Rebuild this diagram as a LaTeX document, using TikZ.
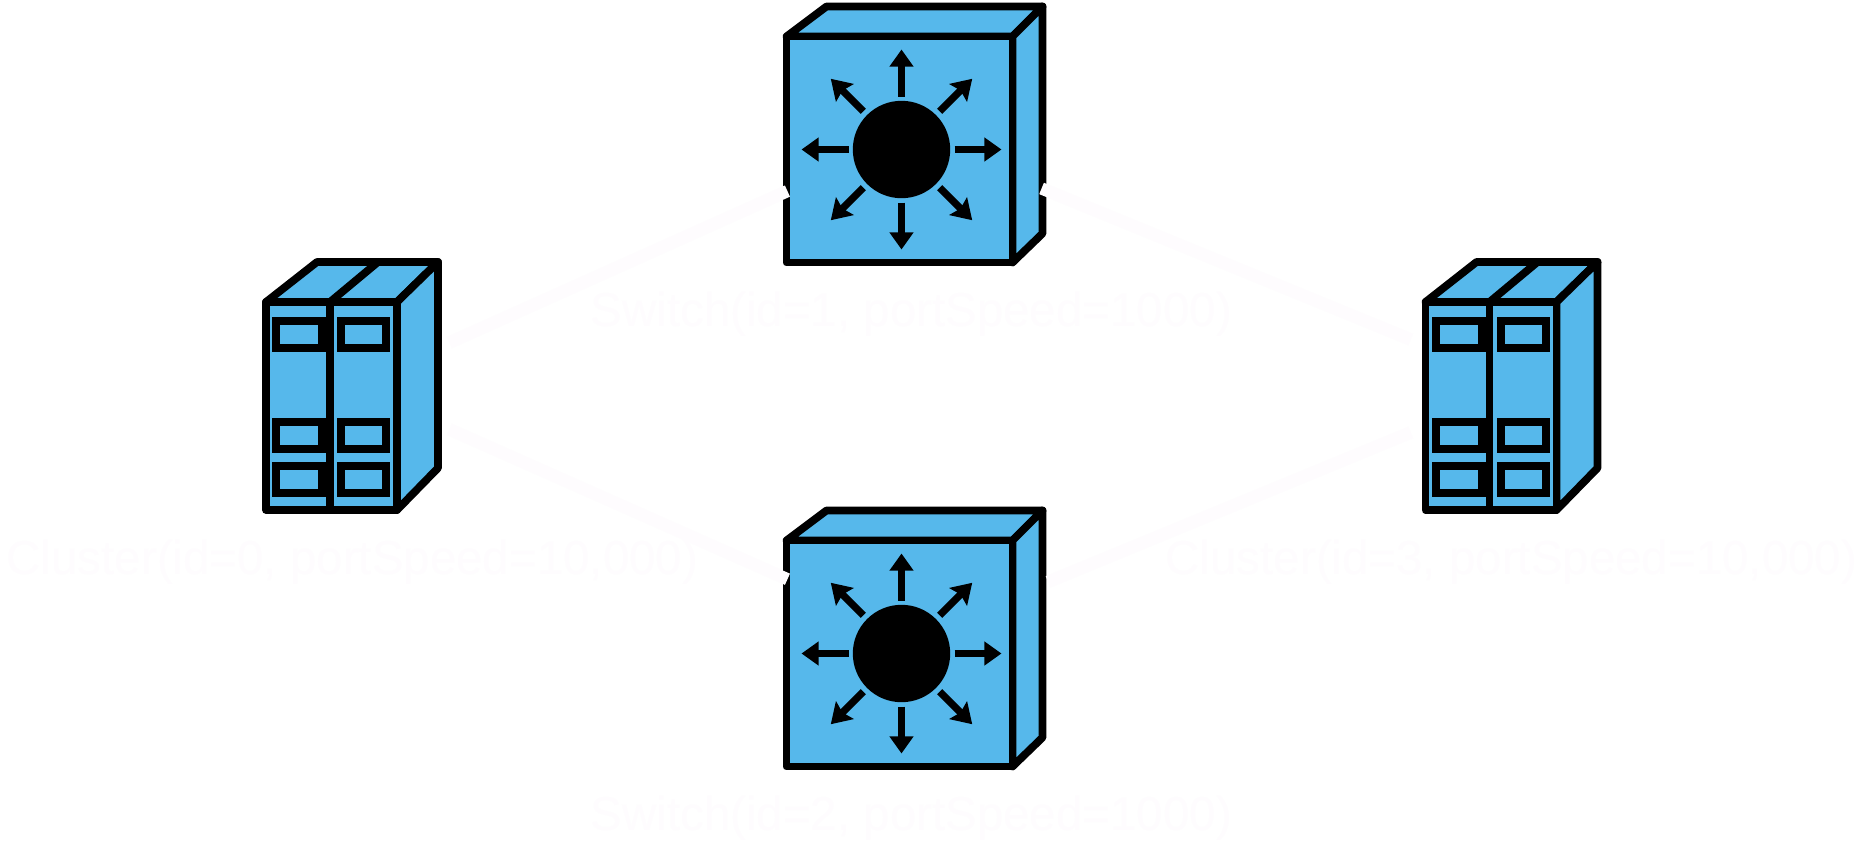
\documentclass[tikz,border=0pt]{standalone}
\usepackage{fontspec}
\setmainfont{Liberation Sans}
\usetikzlibrary{arrows.meta}
\definecolor{boxblue}{HTML}{56B8EB}
\definecolor{ghost}{HTML}{FEFCFE}
\tikzset{
	outline/.style={draw=black, fill=boxblue, line width=2.2pt, line join=round},
	fanline/.style={draw=black, line width=2.05pt},
	fanstraight/.style={fanline, -{Triangle[length=4.9pt, width=6.6pt]}},
	fandiag/.style={fanline, -{Stealth[length=5.6pt, width=7pt, inset=0.9pt]}},
	bay/.style={draw=black, fill=boxblue, line width=2.28pt},
	portbox/.style={inner sep=0pt, outer sep=0pt},
	link/.style={draw=ghost, line width=3.5pt},
	devlabel/.style={anchor=base west, inner sep=0pt, text=ghost, font=\fontsize{13.5}{16}\selectfont},
	switchicon/.pic={
		\node[portbox, minimum width=2.54cm, minimum height=2.56cm] (-box) at (0,0) {};
		\draw[outline] (-128,-98) -- (-88,-128) -- (128,-128) -- (98,-98) -- cycle;
		\draw[outline] (98,-98) -- (128,-128) -- (128,99) -- (98,128) -- cycle;
		\draw[outline] (-128,-98) rectangle (98,128);
		\fill[black] (-13,15) circle (48.7);
		\foreach \a in {0,90,180,270}
			\draw[fanstraight] (-13,15) ++(\a:53) -- ++(\a:47);
		\foreach \a in {45,135,225,315}
			\draw[fandiag] (-13,15) ++(\a:54) -- ++(\a:46);
	},
	clustericon/.pic={
		\node[portbox, minimum width=1.82cm, minimum height=2.48cm] (-box) at (0,0) {};
		\draw[outline] (-86,-84) -- (-35,-124) -- (86,-124) -- (45,-84) -- cycle;
		\draw[outline] (45,-84) -- (86,-124) -- (86,82) -- (45,124) -- cycle;
		\draw[outline] (-86,-84) rectangle (45,124);
		\draw[outline] (-22,-84) -- (26,-124);
		\draw[outline] (-22,-84) -- (-22,124);
		\foreach \y in {-65,36,80} {
			\draw[bay] (-76,\y) rectangle (-30,\y+27);
			\draw[bay] (-11,\y) rectangle (34,\y+27);
		}
	}
}

\begin{document}
\begin{tikzpicture}[x=0.01cm, y=-0.01cm]
	\path[use as bounding box, fill=white] (0,0) rectangle (1860,848);

	% Devices
	\pic (clusterzero) at (352,386) {clustericon};
	\pic (switchone) at (914.5,134.5) {switchicon};
	\pic (switchtwo) at (914.5,638.5) {switchicon};
	\pic (clusterthree) at (1511.5,386) {clustericon};

	% Links, drawn over the device outlines
	\draw[link, shorten <=2pt] (clusterzero-box.24.8) -- (switchone-box.204.4);
	\draw[link, shorten <=2pt] (clusterzero-box.-24) -- (switchtwo-box.155.5);
	\draw[link, shorten >=3pt] (switchone-box.-23.7) -- (clusterthree-box.155.2);
	\draw[link, shorten <=2pt, shorten >=3pt] (switchtwo-box.23.6) -- (clusterthree-box.-155);

	% Labels
	\node[devlabel] (clusterzerolabel) at (6,574) {Cluster(id=0, portSpeed=10,000)};
	\node[devlabel] (switchonelabel) at (590,326) {Switch(id=1, portSpeed=1000)};
	\node[devlabel] (switchtwolabel) at (590,830) {Switch(id=2, portSpeed=1000)};
	\node[devlabel] (clusterthreelabel) at (1165,574) {Cluster(id=3, portSpeed=10,000)};
\end{tikzpicture}
\end{document}
